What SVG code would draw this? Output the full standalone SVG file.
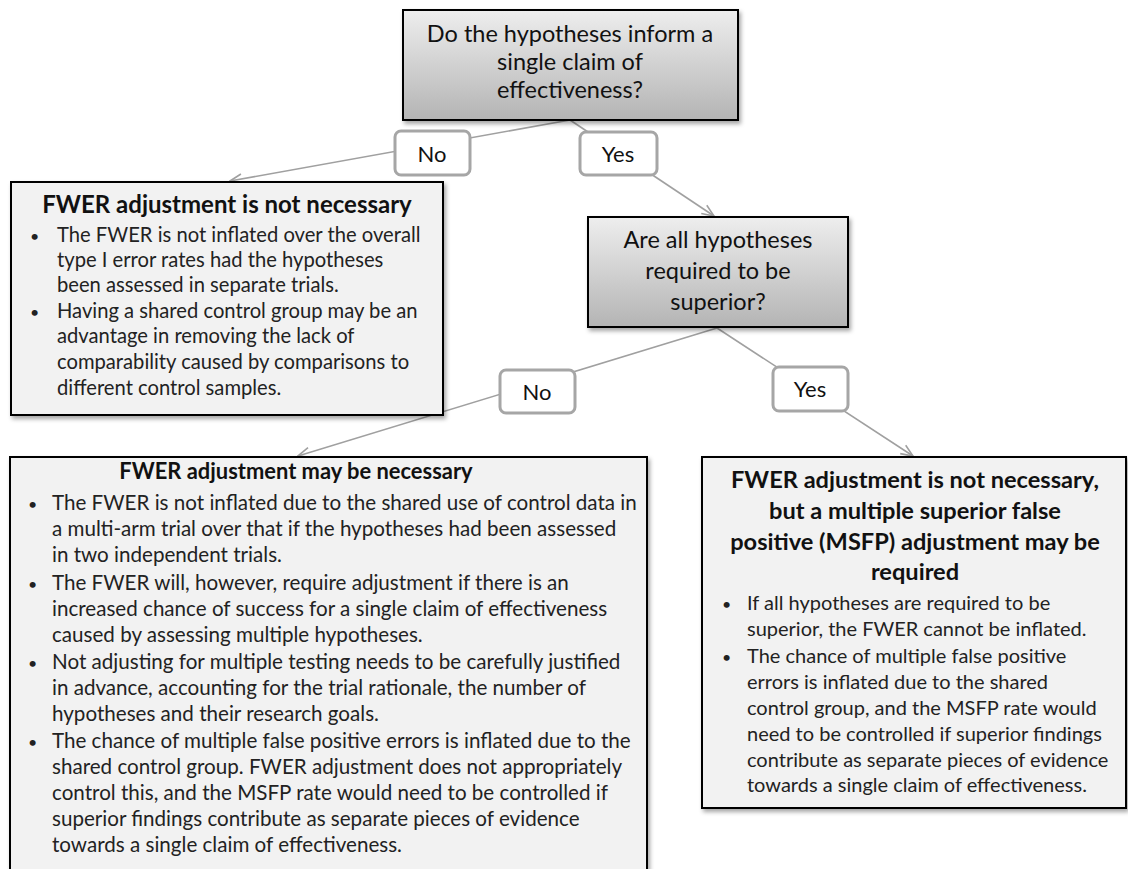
<svg xmlns="http://www.w3.org/2000/svg" width="1128" height="869" viewBox="0 0 1128 869">
<style>
.q{fill:url(#qg);stroke:#000;stroke-width:2}
.box{fill:#f2f2f2;stroke:#000;stroke-width:2}
.lab{fill:#fff;stroke:#a6a6a6;stroke-width:3}
.con{stroke:#a0a0a0;stroke-width:1.6;fill:none;marker-end:url(#ah)}
text{font-family:Lato,"Open Sans","Liberation Sans",sans-serif;fill:#222}
.qt{font-size:23.5px;text-anchor:middle;fill:#111}
.lt{font-size:22px;text-anchor:middle;fill:#111}
.tt{font-weight:bold;text-anchor:middle;fill:#111}
.bu{font-size:16px}
</style>
<defs>
<linearGradient id="qg" x1="0" y1="0" x2="0" y2="1">
<stop offset="0" stop-color="#eeeeee"/>
<stop offset="1" stop-color="#b4b4b4"/>
</linearGradient>
<filter id="sh" x="-5%" y="-5%" width="115%" height="120%">
<feDropShadow dx="2" dy="3" stdDeviation="2" flood-color="#000" flood-opacity="0.35"/>
</filter>
<marker id="ah" viewBox="-13 -7 14 14" refX="0" refY="0" markerWidth="14" markerHeight="14" markerUnits="userSpaceOnUse" orient="auto">
<path d="M-12,-5 L0,0 L-12,5" fill="none" stroke="#a0a0a0" stroke-width="1.6"/>
</marker>
</defs>

<g id="connectors">
<line class="con" x1="570" y1="120" x2="230" y2="181"/>
<line class="con" x1="570" y1="120" x2="714" y2="216"/>
<line class="con" x1="717" y1="328" x2="298" y2="456"/>
<line class="con" x1="717" y1="328" x2="913" y2="456"/>
</g>

<g id="q1">
<rect class="q" x="403" y="10" width="335" height="110" filter="url(#sh)"/>
<text class="qt" x="570" y="42">Do the hypotheses inform a</text>
<text class="qt" x="570" y="70">single claim of</text>
<text class="qt" x="570" y="98">effectiveness?</text>
</g>

<g id="lab-no1">
<rect class="lab" x="395" y="131" width="75" height="44" rx="6"/>
<text class="lt" x="432" y="162">No</text>
</g>
<g id="lab-yes1">
<rect class="lab" x="580" y="132" width="77" height="43" rx="6"/>
<text class="lt" x="618" y="162">Yes</text>
</g>

<g id="n-left">
<rect class="box" x="11" y="182" width="432" height="233" filter="url(#sh)"/>
<text class="tt" x="227" y="213" font-size="24">FWER adjustment is not necessary</text>
<g font-size="20.2">
<text class="bu" x="30" y="242">•</text>
<text x="57" y="242">The FWER is not inflated over the overall</text>
<text x="57" y="267">type I error rates had the hypotheses</text>
<text x="57" y="292">been assessed in separate trials.</text>
<text class="bu" x="30" y="318">•</text>
<text x="57" y="318">Having a shared control group may be an</text>
<text x="57" y="343">advantage in removing the lack of</text>
<text x="57" y="369">comparability caused by comparisons to</text>
<text x="57" y="395">different control samples.</text>
</g>
</g>

<g id="q2">
<rect class="q" x="588" y="217" width="260" height="110" filter="url(#sh)"/>
<text class="qt" x="718" y="248">Are all hypotheses</text>
<text class="qt" x="718" y="279">required to be</text>
<text class="qt" x="718" y="310">superior?</text>
</g>

<g id="lab-no2">
<rect class="lab" x="500" y="370" width="75" height="43" rx="6"/>
<text class="lt" x="537" y="400">No</text>
</g>
<g id="lab-yes2">
<rect class="lab" x="773" y="367" width="75" height="44" rx="6"/>
<text class="lt" x="810" y="397">Yes</text>
</g>

<g id="n-bottom-left">
<rect class="box" x="10" y="457" width="637" height="430" filter="url(#sh)"/>
<text class="tt" x="296" y="479" font-size="21.9">FWER adjustment may be necessary</text>
<g font-size="20.6">
<text class="bu" x="28" y="510">•</text>
<text x="52" y="510">The FWER is not inflated due to the shared use of control data in</text>
<text x="52" y="536">a multi-arm trial over that if the hypotheses had been assessed</text>
<text x="52" y="562">in two independent trials.</text>
<text class="bu" x="28" y="590">•</text>
<text x="52" y="590">The FWER will, however, require adjustment if there is an</text>
<text x="52" y="616">increased chance of success for a single claim of effectiveness</text>
<text x="52" y="642">caused by assessing multiple hypotheses.</text>
<text class="bu" x="28" y="669">•</text>
<text x="52" y="669">Not adjusting for multiple testing needs to be carefully justified</text>
<text x="52" y="695">in advance, accounting for the trial rationale, the number of</text>
<text x="52" y="721">hypotheses and their research goals.</text>
<text class="bu" x="28" y="748">•</text>
<text x="52" y="748">The chance of multiple false positive errors is inflated due to the</text>
<text x="52" y="774">shared control group. FWER adjustment does not appropriately</text>
<text x="52" y="800">control this, and the MSFP rate would need to be controlled if</text>
<text x="52" y="826">superior findings contribute as separate pieces of evidence</text>
<text x="52" y="852">towards a single claim of effectiveness.</text>
</g>
</g>

<g id="n-right">
<rect class="box" x="702" y="457" width="424" height="351" filter="url(#sh)"/>
<g font-size="23.6">
<text class="tt" x="915" y="488">FWER adjustment is not necessary,</text>
<text class="tt" x="915" y="519">but a multiple superior false</text>
<text class="tt" x="915" y="550">positive (MSFP) adjustment may be</text>
<text class="tt" x="915" y="580">required</text>
</g>
<g font-size="20">
<text class="bu" x="722" y="610">•</text>
<text x="747" y="610">If all hypotheses are required to be</text>
<text x="747" y="636">superior, the FWER cannot be inflated.</text>
<text class="bu" x="722" y="663">•</text>
<text x="747" y="663">The chance of multiple false positive</text>
<text x="747" y="689">errors is inflated due to the shared</text>
<text x="747" y="715">control group, and the MSFP rate would</text>
<text x="747" y="741">need to be controlled if superior findings</text>
<text x="747" y="767">contribute as separate pieces of evidence</text>
<text x="747" y="792">towards a single claim of effectiveness.</text>
</g>
</g>
</svg>
